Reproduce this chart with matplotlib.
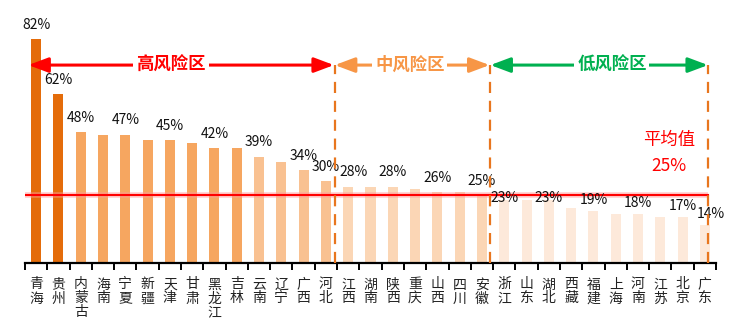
import numpy as np
import matplotlib
matplotlib.use("Agg")
import matplotlib.pyplot as plt
from matplotlib.patches import FancyArrowPatch

plt.rcParams['font.family'] = ['Noto Sans CJK SC', 'DejaVu Sans']

provinces = ['青海', '贵州', '内蒙古', '海南', '宁夏', '新疆', '天津', '甘肃', '黑龙江', '吉林',
             '云南', '辽宁', '广西', '河北', '江西', '湖南', '陕西', '重庆', '山西', '四川',
             '安徽', '浙江', '山东', '湖北', '西藏', '福建', '上海', '河南', '江苏', '北京', '广东']
values = [82, 62, 48, 47, 47, 45, 45, 44, 42, 42,
          39, 37, 34, 30, 28, 28, 28, 27, 26, 26,
          25, 23, 23, 23, 20, 19, 18, 18, 17, 17, 14]
# which bars carry a value label
labelled = ['青海', '贵州', '内蒙古', '宁夏', '天津', '黑龙江', '云南', '广西', '河北', '江西',
            '陕西', '山西', '安徽', '浙江', '湖北', '福建', '河南', '北京', '广东']
# colour group of each bar: 0 darkest ... 4 lightest
groups = [0] * 2 + [1] * 8 + [2] * 4 + [3] * 7 + [4] * 10
average = 25

group_colors = ['#E46C0A', '#F6A660', '#F9C191', '#FBD6B5', '#FDE9DA']

fig = plt.figure(figsize=(7.38, 3.31), dpi=100)
ax = fig.add_axes([25 / 738, 68 / 331, 691 / 738, 245.7 / 331])

x = np.arange(len(provinces))
ax.bar(x, values, width=0.45, color=[group_colors[g] for g in groups], zorder=2)

ax.set_xlim(-0.5, 30.5)
ax.set_ylim(0, 90)

for s in ['top', 'right', 'left']:
    ax.spines[s].set_visible(False)
ax.spines['bottom'].set_linewidth(1.6)
ax.set_yticks([])
ax.set_xticks(np.arange(-0.5, 31, 1))
ax.set_xticklabels([])
ax.tick_params(axis='x', length=5, width=1.4, direction='out')
for i, name in enumerate(provinces):
    ax.text(i, -5.3, '\n'.join(name), ha='center', va='top', fontsize=10,
            linespacing=1.0, color='#222222')

# value labels
for i, (name, v) in enumerate(zip(provinces, values)):
    if name in labelled:
        dy = 5.2 if v > 24 else 4.0
        if v == 23:
            dy = 0.8
        xo = i + 0.25 if name in ('江西', '广东') else i
        ax.text(xo, v + dy, f'{v}%', ha='center', va='center', fontsize=10, color='#111111', zorder=4)

# average line
ax.plot([-0.5, 30.14], [average, average], color='#FF9999', lw=4, alpha=0.5, zorder=3, solid_capstyle='butt')
ax.plot([-0.5, 30.14], [average, average], color='#FF0000', lw=1.5, zorder=3)
ax.text(28.4, 45, '平均值', color='#FF0000', fontsize=12.5, ha='center', va='center')
ax.text(28.4, 35.5, f'{average}%', color='#FF0000', fontsize=12.5, ha='center', va='center')

# risk zones
arrow_y = 72.5
zones = [('高风险区', -0.35, 13.36, '#FF0000', 6.05),
         ('中风险区', 13.4, 20.34, '#F79646', 16.77),
         ('低风险区', 20.38, 30.14, '#00B050', 25.83)]
for label, x0, x1, col, tx in zones:
    arr = FancyArrowPatch((x0, arrow_y), (x1, arrow_y), arrowstyle='<|-|>,head_length=1.2,head_width=0.45',
                          color=col, lw=2.2, mutation_scale=10, shrinkA=0, shrinkB=0, zorder=5,
                          clip_on=False)
    ax.add_patch(arr)
    ax.text(tx, arrow_y, label, color=col, fontsize=12.5, fontweight='bold', ha='center', va='center',
            zorder=6, bbox=dict(facecolor='white', edgecolor='none', pad=2))

for xd in [13.4, 20.36, 30.14]:
    ax.plot([xd, xd], [0, arrow_y], color='#E8761E', lw=1.6, ls=(0, (5, 3.5)), zorder=4, clip_on=False)

fig.savefig('out.png', dpi=100)
